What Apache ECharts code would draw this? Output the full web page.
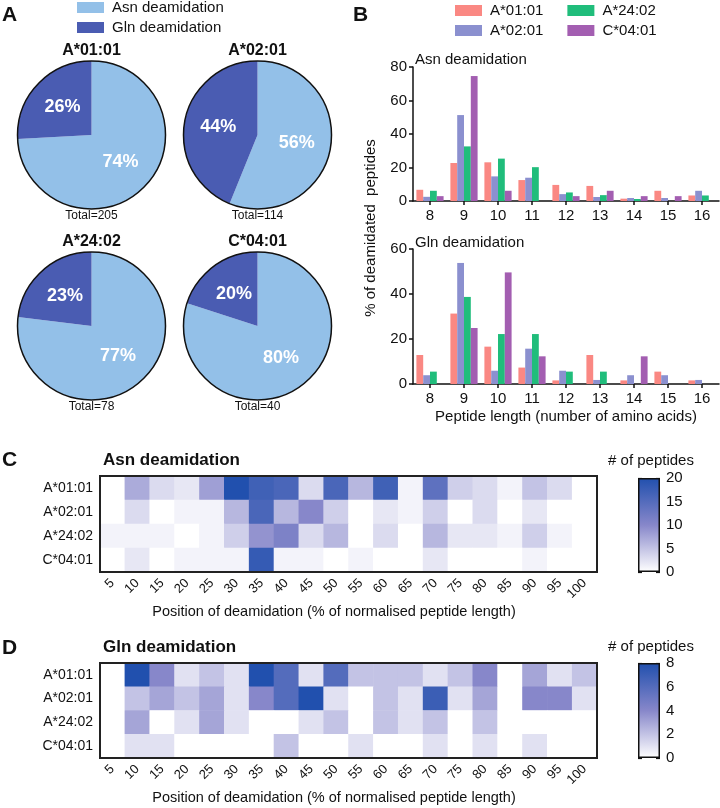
<!DOCTYPE html>
<html><head><meta charset="utf-8">
<script src="https://cdn.jsdelivr.net/npm/echarts@6/dist/echarts.min.js"></script>
<style>html,body{margin:0;padding:0;background:#fff}#c{width:720px;height:808px}</style>
</head><body><div id="c"></div>
<script>
// ---------- DATA ----------
const alleles = ['A*01:01', 'A*02:01', 'A*24:02', 'C*04:01'];
const pieTotals = [205, 114, 78, 40];
const pieAsn = [152, 64, 60, 32];
const pieGln = [53, 50, 18, 8];

const lengths = ['8', '9', '10', '11', '12', '13', '14', '15', '16'];
const asnA0101 = [6.7, 22.7, 23.1, 12.5, 9.6, 9.0, 1.4, 6.1, 3.3];
const asnA0201 = [2.5, 51.3, 14.7, 13.9, 4.1, 2.4, 1.8, 1.8, 6.1];
const asnA2402 = [6.1, 32.6, 25.3, 20.2, 5.1, 3.5, 1.2, 0, 3.3];
const asnC0401 = [2.9, 74.6, 6.1, 0, 2.9, 6.1, 2.9, 2.9, 0];
const glnA0101 = [12.9, 31.3, 16.6, 7.3, 1.6, 12.9, 1.6, 5.5, 1.6];
const glnA0201 = [3.9, 53.8, 5.9, 15.7, 5.9, 1.8, 3.9, 3.9, 1.8];
const glnA2402 = [5.5, 38.7, 22.2, 22.2, 5.5, 5.5, 0, 0, 0];
const glnC0401 = [0, 24.9, 49.6, 12.3, 0, 0, 12.3, 0, 0];
const asnBarTicks = [0, 20, 40, 60, 80];
const glnBarTicks = [0, 20, 40, 60];

const positions = ['5','10','15','20','25','30','35','40','45','50','55','60','65','70','75','80','85','90','95','100'];
const heatAsnA0101 = [0, 7, 3, 2, 8, 20, 17, 16, 3, 16, 6, 17, 1, 14, 4, 3, 1, 5, 3, 0];
const heatAsnA0201 = [0, 3, 0, 1, 1, 6, 16, 6, 10, 4, 0, 2, 1, 4, 0, 3, 0, 2, 0, 0];
const heatAsnA2402 = [1, 1, 1, 0, 1, 4, 9, 11, 3, 6, 0, 3, 0, 6, 2, 2, 1, 4, 1, 0];
const heatAsnC0401 = [0, 2, 0, 1, 1, 1, 18, 1, 1, 0, 1, 0, 0, 2, 0, 0, 0, 1, 0, 0];
const heatGlnA0101 = [0, 8, 4, 1, 2, 1, 8, 6, 1, 6, 2, 2, 2, 1, 2, 4, 0, 3, 1, 2];
const heatGlnA0201 = [0, 2, 3, 2, 3, 1, 4, 6, 8, 1, 0, 2, 1, 7, 1, 3, 0, 4, 4, 1];
const heatGlnA2402 = [0, 3, 0, 1, 3, 1, 0, 0, 1, 2, 0, 2, 1, 2, 0, 2, 0, 0, 0, 0];
const heatGlnC0401 = [0, 1, 1, 0, 0, 0, 0, 2, 0, 0, 1, 0, 0, 1, 0, 1, 0, 1, 0, 0];
const asnScaleMax = 20, asnScaleStep = 5;
const glnScaleMax = 8, glnScaleStep = 2;

// ---------- STYLE ----------
const FONT = '"Liberation Sans", Arial, Helvetica, sans-serif';
const ASN = '#93C0E8', GLN = '#4A5CB2';
const barColors = ['#FA8883', '#8B90CF', '#20BD7B', '#A35EB1'];
const heatColors = ['#FFFFFF', '#8787CA', '#2150AE'];
const pieCenters = [[91.5, 135], [257.5, 135], [91.5, 326], [257.5, 326]];
const PIE_R = 74;

const chart = echarts.init(document.getElementById('c'), null, {renderer: 'canvas'});

const series = [];
// pies
alleles.forEach((a, i) => {
  series.push({
    type: 'pie', name: 'pie ' + a, center: pieCenters[i], radius: PIE_R, startAngle: 90, clockwise: true,
    silent: true, animation: false,
    label: {show: true, position: 'inside', formatter: p => Math.round(p.percent) + '%',
      color: '#fff', fontSize: 18, fontWeight: 'bold', fontFamily: FONT},
    labelLine: {show: false},
    itemStyle: {borderWidth: 0},
    data: [
      {name: 'Asn deamidation', value: pieAsn[i], itemStyle: {color: ASN}},
      {name: 'Gln deamidation', value: pieGln[i], itemStyle: {color: GLN}}
    ]
  });
  series.push({
    type: 'pie', name: 'outline' + i, center: pieCenters[i], radius: PIE_R, silent: true, animation: false, z: 3,
    label: {show: false}, labelLine: {show: false},
    data: [{name: 'outline', value: pieTotals[i]}],
    itemStyle: {color: 'rgba(0,0,0,0)', borderColor: '#111', borderWidth: 1.5}
  });
});
// bars
const asnSets = [asnA0101, asnA0201, asnA2402, asnC0401];
const glnSets = [glnA0101, glnA0201, glnA2402, glnC0401];
alleles.forEach((a, i) => {
  series.push({type: 'bar', name: a, xAxisIndex: 0, yAxisIndex: 0, data: asnSets[i], color: barColors[i],
    itemStyle: {color: barColors[i]}, barGap: '0%', barCategoryGap: '20%', animation: false});
  series.push({type: 'bar', name: a, xAxisIndex: 1, yAxisIndex: 1, data: glnSets[i], color: barColors[i],
    itemStyle: {color: barColors[i]}, barGap: '0%', barCategoryGap: '20%', animation: false});
});
// heatmaps
function heatData(rows) {
  const d = [];
  rows.forEach((r, yi) => r.forEach((v, xi) => d.push([xi, yi, v])));
  return d;
}
const heatAsnIdx = series.length;
series.push({type: 'heatmap', xAxisIndex: 2, yAxisIndex: 2, animation: false,
  data: heatData([heatAsnA0101, heatAsnA0201, heatAsnA2402, heatAsnC0401])});
const heatGlnIdx = series.length;
series.push({type: 'heatmap', xAxisIndex: 3, yAxisIndex: 3, animation: false,
  data: heatData([heatGlnA0101, heatGlnA0201, heatGlnA2402, heatGlnC0401])});
// colour bars
const grad = new echarts.graphic.LinearGradient(0, 0, 0, 1, [
  {offset: 0, color: heatColors[2]}, {offset: 0.5, color: heatColors[1]}, {offset: 1, color: heatColors[0]}]);
series.push({type: 'bar', xAxisIndex: 4, yAxisIndex: 4, data: [asnScaleMax], barWidth: '100%', silent: true, animation: false,
  itemStyle: {color: grad, borderColor: '#111', borderWidth: 1.5}});
series.push({type: 'bar', xAxisIndex: 5, yAxisIndex: 6, data: [glnScaleMax], barWidth: '100%', silent: true, animation: false,
  itemStyle: {color: grad, borderColor: '#111', borderWidth: 1.5}});

const axisTxt = {color: '#111', fontFamily: FONT, fontSize: 15};
const blackLine = {show: true, lineStyle: {color: '#111', width: 1.5}};
function barX(g) {
  return {gridIndex: g, type: 'category', data: lengths, axisLine: blackLine,
    axisTick: {show: true, alignWithLabel: true, length: 4, lineStyle: {color: '#111', width: 1.5}},
    axisLabel: Object.assign({margin: 7}, axisTxt)};
}
function barY(g, ticks) {
  return {gridIndex: g, type: 'value', min: ticks[0], max: ticks[ticks.length - 1], interval: ticks[1] - ticks[0],
    axisLine: blackLine, axisTick: {show: true, length: 4, lineStyle: {color: '#111', width: 1.5}},
    splitLine: {show: false}, axisLabel: Object.assign({margin: 6}, axisTxt)};
}
function heatX(g) {
  return {gridIndex: g, type: 'category', data: positions, axisLine: {show: false}, axisTick: {show: false},
    splitLine: {show: false},
    axisLabel: {interval: 0, rotate: 45, margin: 9, color: '#111', fontFamily: FONT, fontSize: 13,
      padding: [0, 0, 0, 0]}};
}
function heatY(g) {
  return {gridIndex: g, type: 'category', data: alleles, inverse: true, axisLine: {show: false}, axisTick: {show: false},
    axisLabel: {margin: 7, color: '#111', fontFamily: FONT, fontSize: 14}};
}
function cbY(g, max, step, pos, labels) {
  return {gridIndex: g, type: 'value', min: 0, max: max, interval: step, position: pos,
    axisLine: {show: false}, splitLine: {show: false},
    axisTick: {show: true, inside: true, length: 4, lineStyle: {color: '#111', width: 1.2}},
    axisLabel: {show: labels, margin: 6, color: '#111', fontFamily: FONT, fontSize: 15}};
}

const legTxt = {color: '#111', fontFamily: FONT, fontSize: 15, padding: [0, 0, 0, 3]};
function leg(data, left, top, gap) {
  return {data: data, left: left, top: top, orient: 'horizontal', itemWidth: 27, itemHeight: 11, itemGap: gap,
    padding: 0, icon: 'rect', textStyle: legTxt, selectedMode: false};
}

function txt(text, x, y, size, bold, align, rot) {
  return {type: 'text', x: x, y: y, rotation: rot || 0, silent: true,
    style: {text: text, fontSize: size, fontWeight: bold ? 'bold' : 'normal', fontFamily: FONT, fill: '#111',
      align: align || 'left', verticalAlign: 'middle', textAlign: align || 'left', textVerticalAlign: 'middle'}};
}
const graphics = [
  txt('A', 2, 15, 21, true), txt('B', 353, 15, 21, true),
  txt('C', 2, 460, 21, true), txt('D', 2, 648, 21, true),
  txt('Asn deamidation', 415, 60, 15, false), txt('Gln deamidation', 415, 243, 15, false),
  txt('Peptide length (number of amino acids)', 566, 417, 15, false, 'center'),
  txt('% of deamidated  peptides', 371, 228, 15, false, 'center', Math.PI / 2),
  txt('Asn deamidation', 103, 460, 17, true), txt('Gln deamidation', 103, 647, 17, true),
  txt('# of peptides', 651, 461, 15, false, 'center'), txt('# of peptides', 651, 647, 15, false, 'center'),
  txt('Position of deamidation (% of normalised peptide length)', 334, 612, 14.5, false, 'center'),
  txt('Position of deamidation (% of normalised peptide length)', 334, 798, 14.5, false, 'center')
];
alleles.forEach((a, i) => {
  graphics.push(txt(a, pieCenters[i][0], pieCenters[i][1] - 84, 16, true, 'center'));
  graphics.push(txt('Total=' + pieTotals[i], pieCenters[i][0], pieCenters[i][1] + 81, 12, false, 'center'));
});

chart.setOption({
  animation: false,
  backgroundColor: '#fff',
  textStyle: {fontFamily: FONT},
  legend: [
    leg(['Asn deamidation'], 77, 0, 10),
    leg(['Gln deamidation'], 77, 20, 10),
    leg(['A*01:01', 'A*24:02'], 455, 3, 24),
    leg(['A*02:01', 'C*04:01'], 455, 23, 24)
  ],
  grid: [
    {left: 413, top: 67, width: 306, height: 134},
    {left: 413, top: 249, width: 306, height: 135},
    {left: 100, top: 476, width: 497, height: 96, show: true, z: 5, backgroundColor: 'rgba(0,0,0,0)', borderColor: '#222', borderWidth: 2},
    {left: 100, top: 663, width: 497, height: 95, show: true, z: 5, backgroundColor: 'rgba(0,0,0,0)', borderColor: '#222', borderWidth: 2},
    {left: 638, top: 478, width: 22, height: 94},
    {left: 638, top: 663, width: 22, height: 95}
  ],
  xAxis: [barX(0), barX(1), heatX(2), heatX(3),
    {gridIndex: 4, type: 'category', data: [''], show: false},
    {gridIndex: 5, type: 'category', data: [''], show: false}],
  yAxis: [barY(0, asnBarTicks), barY(1, glnBarTicks), heatY(2), heatY(3),
    cbY(4, asnScaleMax, asnScaleStep, 'left', false), cbY(4, asnScaleMax, asnScaleStep, 'right', true),
    cbY(5, glnScaleMax, glnScaleStep, 'left', false), cbY(5, glnScaleMax, glnScaleStep, 'right', true)],
  visualMap: [
    {type: 'continuous', show: false, min: 0, max: asnScaleMax, seriesIndex: heatAsnIdx, dimension: 2, inRange: {color: heatColors}},
    {type: 'continuous', show: false, min: 0, max: glnScaleMax, seriesIndex: heatGlnIdx, dimension: 2, inRange: {color: heatColors}}
  ],
  graphic: graphics,
  series: series
});
</script>
</body></html>
